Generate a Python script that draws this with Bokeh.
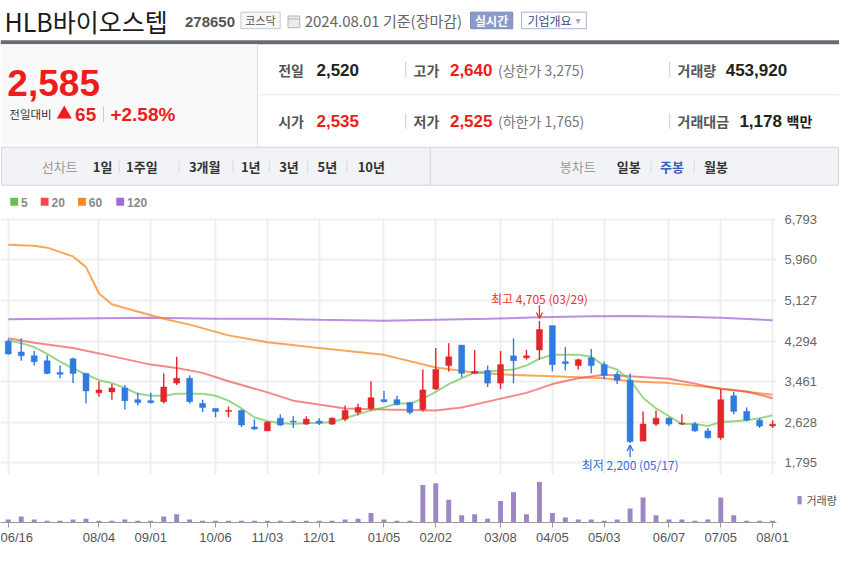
from bokeh.plotting import figure
from bokeh.layouts import column
from bokeh.models import (Range1d, FixedTicker, NumeralTickFormatter, Label, Arrow,
                          OpenHead, ColumnDataSource, LinearAxis)
from bokeh.core.properties import value
from bokeh.embed import file_html
from bokeh.resources import INLINE

KR = "Noto Sans CJK KR"
LAT = "Liberation Sans"
W = 839

# ---------------- data (weekly candles, 2023-06-16 .. 2024-08-01) ----------------
opens  = [4290, 4070, 3990, 3890, 3650, 3930, 3630, 3230, 3250, 3330,
          3090, 3070, 3050, 3430, 3530, 3010, 2910, 2850, 2870, 2530,
          2450, 2710, 2650, 2590, 2650, 2590, 2690, 2830, 2910, 3090,
          3090, 3030, 2890, 3310, 3790, 4210, 3630, 3690, 3430, 3990,
          3950, 4110, 4610, 3870, 3790, 3950, 3810, 3610, 3490, 2240,
          2590, 2710, 2590, 2590, 2450, 2310, 3170, 2850, 2670, 2550]
highs  = [4330, 4350, 4090, 4000, 3790, 3950, 3630, 3470, 3410, 3390,
          3230, 3230, 3630, 3970, 3590, 3090, 2910, 2950, 2890, 2690,
          2650, 2790, 2750, 2750, 2710, 2730, 2970, 3010, 3470, 3270,
          3170, 3050, 3710, 4150, 4250, 4210, 4110, 3790, 4090, 4350,
          4110, 4705, 4610, 4170, 3930, 4130, 3870, 3670, 3630, 2850,
          2870, 2730, 2790, 2630, 2510, 3310, 3250, 2930, 2710, 2670]
lows   = [4010, 3890, 3790, 3610, 3530, 3430, 3010, 3150, 3090, 2890,
          2970, 3010, 3010, 3390, 3010, 2830, 2730, 2730, 2530, 2470,
          2450, 2550, 2510, 2570, 2570, 2570, 2650, 2770, 2870, 3030,
          2970, 2790, 2850, 3290, 3670, 3550, 3630, 3350, 3310, 3430,
          3910, 3910, 3670, 3690, 3710, 3630, 3510, 3410, 2200, 2240,
          2550, 2550, 2570, 2430, 2290, 2270, 2790, 2650, 2510, 2510]
closes = [4030, 3990, 3870, 3630, 3610, 3630, 3270, 3290, 3330, 3070,
          3030, 3030, 3350, 3530, 3050, 2930, 2850, 2870, 2570, 2490,
          2630, 2570, 2630, 2690, 2610, 2710, 2870, 2930, 3130, 3050,
          2990, 2830, 3290, 3710, 3970, 3630, 3670, 3430, 3810, 3890,
          3990, 4530, 3810, 3830, 3910, 3790, 3590, 3490, 2230, 2590,
          2710, 2590, 2610, 2450, 2310, 3090, 2850, 2670, 2550, 2585]
volume_k = [3300, 6700, 3300, 2000, 2000, 3300, 4300, 2000, 2000, 3300,
            2000, 2000, 6700, 9300, 3300, 2000, 2000, 2000, 2000, 2000,
            2000, 2000, 2000, 2000, 2000, 2000, 3300, 4300, 10700, 3300,
            2000, 2000, 42300, 44300, 25700, 8300, 9300, 4300, 24300, 34300,
            9300, 45700, 10700, 5700, 3300, 3300, 2000, 3300, 15700, 28300,
            8300, 3300, 3300, 2000, 3300, 28300, 8300, 2000, 2000, 2000]

ma5 = [4310, 4250, 4170, 4030, 3870, 3730, 3610, 3490, 3430, 3330,
       3210, 3170, 3170, 3210, 3210, 3210, 3170, 3070, 2910, 2730,
       2650, 2610, 2590, 2610, 2610, 2630, 2710, 2790, 2870, 2930,
       3010, 3010, 3110, 3250, 3410, 3530, 3650, 3670, 3690, 3710,
       3790, 3930, 4010, 4010, 4010, 3970, 3790, 3710, 3490, 3130,
       2910, 2750, 2590, 2590, 2550, 2630, 2650, 2670, 2710, 2770]
ma20_idx = [0, 2, 5, 7, 11, 13, 15, 17, 20, 22, 25, 26, 29, 33, 35, 37, 40, 42,
            44, 46, 48, 51, 53, 54, 55, 57, 59]
ma20 = [4350, 4260, 4150, 4040, 3810, 3740, 3640, 3470, 3240, 3070, 2950, 2910,
        2890, 2870, 2930, 3050, 3230, 3410, 3530, 3600, 3570, 3520, 3420, 3360,
        3320, 3260, 3120]
ma60_idx = [0, 2, 3, 5, 6, 7, 8, 9, 12, 14, 17, 20, 24, 29, 33, 36, 38, 42, 46,
            48, 51, 54, 55, 59]
ma60 = [6270, 6250, 6210, 6030, 5810, 5270, 5050, 4970, 4750, 4630, 4410, 4270,
        4150, 4010, 3750, 3650, 3610, 3570, 3530, 3470, 3430, 3350, 3310, 3190]
ma120_idx = [0, 7, 11, 16, 20, 24, 29, 33, 37, 41, 45, 48, 52, 55, 59]
ma120 = [4740, 4760, 4770, 4750, 4750, 4730, 4710, 4730, 4750, 4780, 4800, 4805,
         4790, 4770, 4720]

price_ticks = [1795, 2628, 3461, 4294, 5127, 5960, 6793]
date_tick_idx = [0, 7, 11, 16, 20, 24, 29, 33, 38, 42, 46, 51, 55, 59]
date_tick_labels = ["06/16", "08/04", "09/01", "10/06", "11/03", "12/01", "01/05",
                    "02/02", "03/08", "04/05", "05/03", "06/07", "07/05", "08/01"]

hi_idx, hi_val, hi_text = 41, 4705, "최고 4,705 (03/29)"
lo_idx, lo_val, lo_text = 48, 2200, "최저 2,200 (05/17)"

# header values
stock_name = "HLB바이오스텝"
stock_code = "278650"
market = "코스닥"
as_of = "2024.08.01 기준(장마감)"
price_now = "2,585"
change_abs = "65"
change_pct = "+2.58%"

RED = "#ee1c1c"
C_UP = "#e3262b"
C_DN = "#2f7be0"
MA_COLORS = ["#66c24c", "#f04a4a", "#f58a22", "#a468d6"]
VOL_COLOR = "#9c86c6"

# ---------------- header ----------------
HH = 210
h = figure(width=W, height=HH, x_range=Range1d(0, 855), y_range=Range1d(HH - 2, -8),
           toolbar_location=None, output_backend="svg", min_border=0,
           x_axis_location=None, y_axis_location=None)
h.grid.visible = False
h.outline_line_color = None


def txt(x, y, s, size, color, bold=False, font=KR, align="left"):
    h.text(x=[x], y=[y], text=[s], text_font=value(font), text_font_size=f"{size}px",
           text_color=color, text_font_style="bold" if bold else "normal",
           text_align=align, text_baseline="middle")


def box(l, r, t, b, fill, line=None):
    h.quad(left=[l], right=[r], top=[t], bottom=[b], fill_color=fill,
           line_color=line if line else None, line_width=1)


def seg(x0, y0, x1, y1, color, w=1):
    h.segment(x0=[x0], y0=[y0], x1=[x1], y1=[y1], line_color=color, line_width=w)


# title row
txt(4, 13, stock_name, 25, "#1a1a1a")
txt(188, 14, stock_code, 15, "#555555", bold=True, font=LAT)
box(245, 285, 4, 21, "#f7f7f7", "#c8c8c8")
txt(265, 12.5, market, 11, "#555555", align="center")
box(293, 305, 8, 20, "#ececec", "#b4b4b4")
seg(293, 11, 305, 11, "#b4b4b4")
txt(310, 13, as_of, 15, "#666666")
box(479, 522, 4, 21, "#8b9bc8", "#7b8bbb")
txt(500.5, 12.5, "실시간", 12, "white", bold=True, align="center")
box(531, 597, 4, 21, "white", "#a8b4d6")
txt(537, 12.5, "기업개요", 12, "#3d4e86")
txt(586, 12.5, "▾", 10, "#9aa6c8", font="DejaVu Sans")

# dark bar + info panel
box(0, 855, 33, 37, "#676b73")
box(0, 262, 37, 140, "#f9f9f9")
seg(262, 37, 262, 143, "#dddddd")
seg(262, 89, 855, 89, "#e8e8e8")

txt(7, 77, price_now, 37, RED, bold=True, font=LAT)
txt(9, 109, "전일대비", 11.5, "#333333")
h.scatter(x=[65], y=[109], marker="triangle", size=15, fill_color=RED, line_color=None)
txt(76, 109, change_abs, 19, RED, bold=True, font=LAT)
seg(105, 101, 105, 117, "#cccccc")
txt(112, 109, change_pct, 19, RED, bold=True, font=LAT)

row1, row2 = 63, 116
txt(283, row1, "전일", 14, "#555555", bold=True)
txt(322, row1, "2,520", 17, "#222222", bold=True, font=LAT)
seg(413, row1 - 8, 413, row1 + 8, "#cccccc")
txt(421, row1, "고가", 14, "#555555", bold=True)
txt(458, row1, "2,640", 17, RED, bold=True, font=LAT)
txt(507, row1, "(상한가 3,275)", 14, "#777777")
seg(682, row1 - 8, 682, row1 + 8, "#cccccc")
txt(690, row1, "거래량", 14, "#555555", bold=True)
txt(739, row1, "453,920", 17, "#222222", bold=True, font=LAT)

txt(283, row2, "시가", 14, "#555555", bold=True)
txt(322, row2, "2,535", 17, RED, bold=True, font=LAT)
seg(413, row2 - 8, 413, row2 + 8, "#cccccc")
txt(421, row2, "저가", 14, "#555555", bold=True)
txt(458, row2, "2,525", 17, RED, bold=True, font=LAT)
txt(507, row2, "(하한가 1,765)", 14, "#777777")
seg(682, row2 - 8, 682, row2 + 8, "#cccccc")
txt(690, row2, "거래대금", 14, "#555555", bold=True)
txt(753, row2, "1,178", 17, "#222222", bold=True, font=LAT)
txt(801, row2, "백만", 14, "#222222", bold=True)

# tab bar
box(1, 854, 143, 182, "#f2f3f6", "#d3d5da")
seg(438, 143, 438, 182, "#d3d5da")
ty = 163
txt(42, ty, "선차트", 13, "#9a9a9a")
for xx, lab in [(94, "1일"), (128, "1주일"), (192, "3개월"), (245, "1년"),
                (284, "3년"), (323, "5년"), (364, "10년")]:
    txt(xx, ty, lab, 13, "#333333", bold=True)
for xx in [121, 182, 237, 274, 313, 353, 663, 707]:
    seg(xx, ty - 6, xx, ty + 6, "#d8d8d8")
txt(570, ty, "봉차트", 13, "#9a9a9a")
txt(628, ty, "일봉", 13, "#333333", bold=True)
txt(672, ty, "주봉", 13, "#3a5fbf", bold=True)
txt(717, ty, "월봉", 13, "#333333", bold=True)

# MA legend
for (l, lab, c) in [(10, "5", MA_COLORS[0]), (41, "20", MA_COLORS[1]),
                    (79, "60", MA_COLORS[2]), (118, "120", MA_COLORS[3])]:
    box(l, l + 8, 195, 203, c)
    txt(l + 11, 199.5, lab, 12, "#8a8a8a", bold=True, font=LAT)

# ---------------- price chart ----------------
xr = Range1d(-0.6, 59.3)
p = figure(width=W, height=264, x_range=xr, y_range=Range1d(1555, 6808),
           y_axis_location="right", x_axis_location=None,
           toolbar_location=None, output_backend="svg",
           min_border_left=0, min_border_right=62, min_border_top=8, min_border_bottom=0)
p.outline_line_color = None
p.xgrid.ticker = FixedTicker(ticks=date_tick_idx)
p.ygrid.ticker = FixedTicker(ticks=price_ticks)
p.grid.grid_line_color = "#efefef"
p.grid.grid_line_width = 2
ax = p.yaxis[0]
ax.ticker = FixedTicker(ticks=price_ticks)
ax.formatter = NumeralTickFormatter(format="0,0")
ax.axis_line_color = None
ax.major_tick_line_color = None
ax.minor_tick_line_color = None
ax.major_tick_out = 0
ax.major_tick_in = 0
ax.major_label_standoff = 8
ax.major_label_text_font = LAT
ax.major_label_text_font_size = "13px"
ax.major_label_text_color = "#666666"

idx = list(range(len(closes)))
p.line(ma120_idx, ma120, line_color=MA_COLORS[3], line_width=2, line_alpha=0.75)
p.line(ma60_idx, ma60, line_color=MA_COLORS[2], line_width=2, line_alpha=0.75)
p.line(ma20_idx, ma20, line_color=MA_COLORS[1], line_width=2, line_alpha=0.65)
p.line(idx, ma5, line_color=MA_COLORS[0], line_width=2, line_alpha=0.65)

colors = [C_UP if c >= o else C_DN for o, c in zip(opens, closes)]
src = ColumnDataSource(dict(x=idx, o=opens, h=highs, l=lows, c=closes,
                            top=[max(o, c) for o, c in zip(opens, closes)],
                            bot=[min(o, c) for o, c in zip(opens, closes)],
                            col=colors))
p.segment(x0="x", y0="l", x1="x", y1="h", line_color="col", line_width=1.4, source=src)
p.vbar(x="x", top="top", bottom="bot", width=0.46, fill_color="col", line_color="col",
       line_width=0.5, source=src)

p.add_layout(Label(x=hi_idx, y=5171, text=hi_text, text_align="center",
                   text_baseline="middle", text_font=KR, text_font_size="12px",
                   text_color="#e8332f"))
p.add_layout(Arrow(end=OpenHead(size=6, line_color="#e8332f", line_width=1.3),
                   x_start=hi_idx, y_start=5030, x_end=hi_idx, y_end=hi_val + 50,
                   line_color="#e8332f", line_width=1.3))
p.add_layout(Label(x=lo_idx, y=1768, text=lo_text, text_align="center",
                   text_baseline="middle", text_font=KR, text_font_size="12px",
                   text_color="#2f6fd6"))
p.add_layout(Arrow(end=OpenHead(size=6, line_color="#2f6fd6", line_width=1.3),
                   x_start=lo_idx, y_start=1910, x_end=lo_idx, y_end=lo_val - 40,
                   line_color="#2f6fd6", line_width=1.3))

# ---------------- separator ----------------
sep = figure(width=W, height=2, toolbar_location=None, output_backend="svg", min_border=0,
             x_axis_location=None, y_axis_location=None,
             background_fill_color="#8c8c8c", border_fill_color="#8c8c8c")
sep.grid.visible = False
sep.outline_line_color = None

# ---------------- volume ----------------
v = figure(width=W, height=71, x_range=xr, y_range=Range1d(0, 52000),
           x_axis_location="below", y_axis_location=None,
           toolbar_location=None, output_backend="svg",
           min_border_left=0, min_border_right=62, min_border_top=0, min_border_bottom=0)
v.outline_line_color = None
v.grid.visible = False
v.vbar(x=idx, top=volume_k, width=0.38, fill_color=VOL_COLOR, line_color=None)
xa = v.xaxis[0]
xa.ticker = FixedTicker(ticks=date_tick_idx)
xa.major_label_overrides = {i: lab for i, lab in zip(date_tick_idx, date_tick_labels)}
xa.axis_line_color = "#9a9a9a"
xa.major_tick_line_color = "#9a9a9a"
xa.minor_tick_line_color = None
xa.major_tick_in = 0
xa.major_tick_out = 5
xa.major_label_standoff = 2
xa.major_label_text_font = LAT
xa.major_label_text_font_size = "13px"
xa.major_label_text_color = "#555555"


def legend_axis(label, color, font, standoff):
    return LinearAxis(ticker=FixedTicker(ticks=[]), axis_line_color=None,
                      major_tick_line_color=None, minor_tick_line_color=None,
                      major_tick_in=0, major_tick_out=0,
                      axis_label=label, axis_label_orientation="horizontal",
                      axis_label_standoff=standoff, axis_label_text_color=color,
                      axis_label_text_font=font, axis_label_text_font_size="11px",
                      axis_label_text_font_style="normal")


v.add_layout(legend_axis("▮", VOL_COLOR, "DejaVu Sans", 20), "right")
v.add_layout(legend_axis("거래량", "#555555", KR, 1), "right")

# header is a separate root so that its frame is not aligned to the charts' frames
open("out.html", "w").write(file_html([h, column(p, sep, v)], INLINE))
